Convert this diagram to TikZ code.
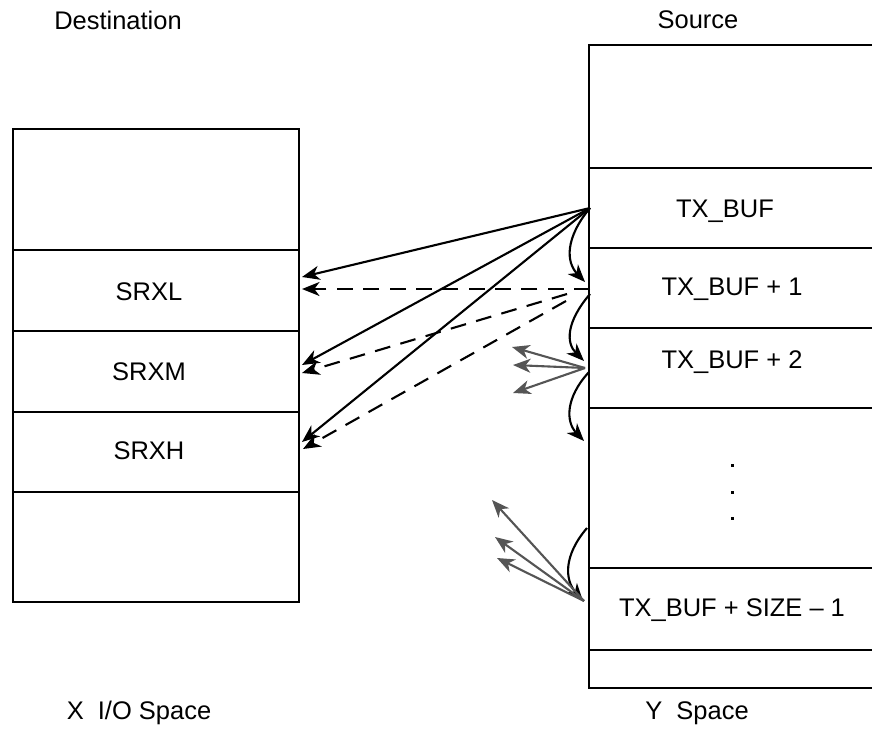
\documentclass[tikz,border=0pt]{standalone}
\usepackage{fontspec}
\setmainfont{Liberation Sans}
\usepackage{xcolor}
\usepackage{tikz}
\usetikzlibrary{arrows.meta}

\definecolor{fangray}{HTML}{555555}

\begin{document}
\begin{tikzpicture}[x=0.02cm, y=-0.02cm,
        memline/.style={line width=1.6pt},
        xfer/.style={line width=1.2pt, -{Stealth[length=10pt, width=8pt, inset=3pt]}},
        xferdash/.style={xfer, dash pattern=on 9pt off 6pt},
        nextarrow/.style={line width=1.2pt, -{Stealth[length=10pt, width=8pt, inset=3pt]}},
        fanarrow/.style={line width=1.2pt, fangray, -{Stealth[length=10pt, width=8pt, inset=3pt]}},
        every node/.style={font=\fontsize{14.5}{17}\selectfont}]
    \useasboundingbox (0,0) rectangle (872,730);

    % Destino (izquierda)
    \draw[memline] (13,129) rectangle (299,602);
    \foreach \yy in {250,331,412,492}
        \draw[memline] (13,\yy) -- (299,\yy);
    \node (dst) at (118,20) {Destination};
    \node (xio) at (139,713) {X\ \ I/O Space};
    \node (srxl) at (149,292) {SRXL};
    \node (srxm) at (149,372) {SRXM};
    \node (srxh) at (149,451) {SRXH};

    % Origen (derecha)
    \draw[memline] (900,45) -- (589,45) -- (589,688) -- (900,688);
    \foreach \yy in {168,248,328,408,568,650}
        \draw[memline] (589,\yy) -- (900,\yy);
    \node (src) at (698,20) {Source};
    \node (ysp) at (697,713) {Y\ \ Space};
    \node (tx0) at (725,211) {TX\_BUF};
    \node (tx1) at (732,289) {TX\_BUF + 1};
    \node (tx2) at (732,362) {TX\_BUF + 2};
    \node (txn) at (732,610) {TX\_BUF + SIZE -- 1};
    \foreach \yy in {464,491,517}
        \fill (731,\yy) rectangle ++(3,3);

    % puntos de conexion
    \coordinate (s0) at (590,208);
    \coordinate (s1) at (590,289);
    \coordinate (s1a) at (567,294);
    \coordinate (s1b) at (566,301);
    \coordinate (s2) at (585,368);
    \coordinate (sn) at (584,601);
    \coordinate (l0) at (302,277);
    \coordinate (l0d) at (302,289);
    \coordinate (m0) at (302,365);
    \coordinate (m0d) at (302,373);
    \coordinate (h0) at (302,442);
    \coordinate (h0d) at (303,449);

    % transferencias
    \draw[xfer] (s0) -- (l0);
    \draw[xfer] (s0) -- (m0);
    \draw[xfer] (s0) -- (h0);
    \draw[xferdash] (s1) -- (l0d);
    \draw[xferdash] (s1a) -- (m0d);
    \draw[xferdash] (s1b) -- (h0d);

    % avance del puntero
    \draw[nextarrow] (s0) .. controls (565,238) and (566,262) .. (585,282);
    \draw[nextarrow] (590,294) .. controls (566,322) and (566,343) .. (584,361);
    \draw[nextarrow] (589,372) .. controls (565,398) and (566,422) .. (584,441);
    \draw[nextarrow] (587,528) .. controls (563,556) and (565,580) .. (583,601);

    % abanicos grises
    \coordinate (g1) at (512,347);
    \coordinate (g2) at (513,365);
    \coordinate (g3) at (513,393);
    \coordinate (g4) at (492,500);
    \coordinate (g5) at (495,537);
    \coordinate (g6) at (497,558);
    \foreach \g in {g1,g2,g3}
        \draw[fanarrow] (s2) -- (\g);
    \foreach \g in {g4,g5,g6}
        \draw[fanarrow] (sn) -- (\g);
\end{tikzpicture}
\end{document}
